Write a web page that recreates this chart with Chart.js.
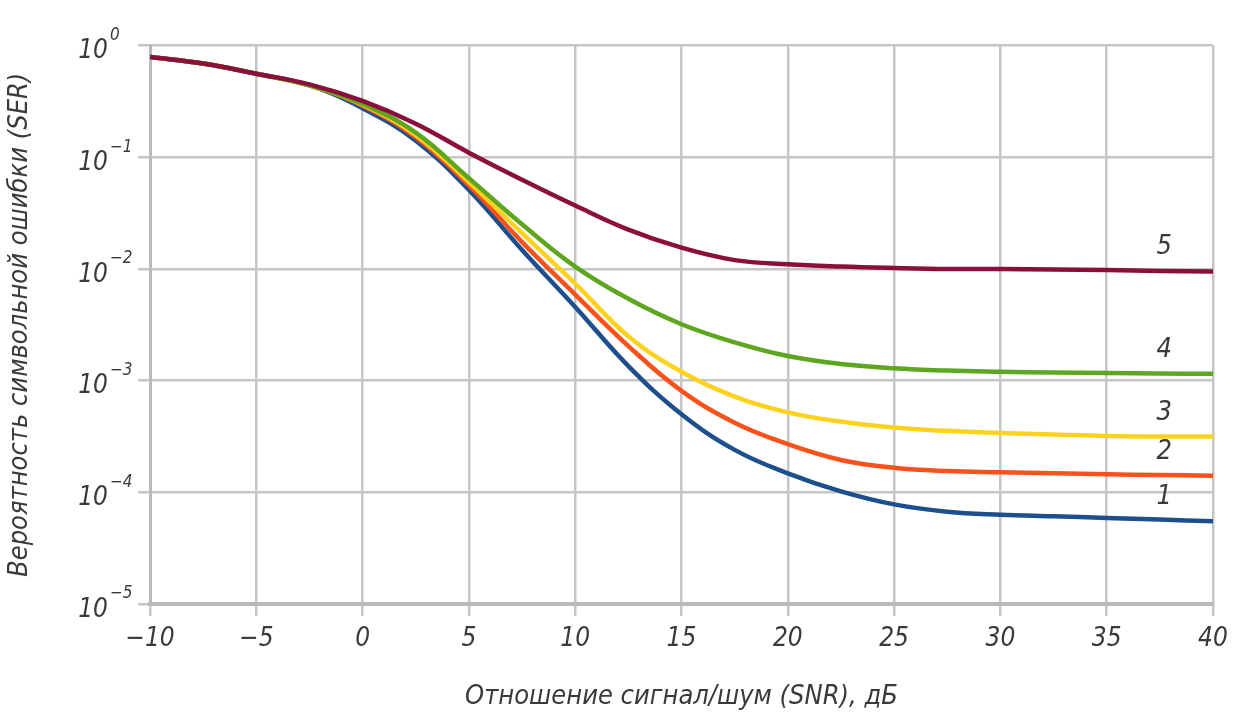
<!DOCTYPE html>
<html>
<head>
<meta charset="utf-8">
<script src="https://cdn.jsdelivr.net/npm/chart.js@4"></script>
<style>
  html, body { margin: 0; padding: 0; background: #fff; }
  #wrap { width: 1250px; height: 717px; }
</style>
</head>
<body>
<div id="wrap"><canvas id="myChart" width="1250" height="717"></canvas></div>
<script>
// SNR, dB
let snr = [-10, -7.5, -5, -2.5, 0, 2.5, 5, 7.5, 10, 12.5, 15, 17.5, 20, 22.5, 25, 27.5, 30, 32.5, 35, 37.5, 40];

// SER per curve
let ser1 = [0.79, 0.69, 0.56, 0.44, 0.275, 0.141, 0.051, 0.0148, 0.00457, 0.00135, 0.0005, 0.00024, 0.000148, 0.000102, 0.000078, 0.000067, 0.000063, 0.000061, 0.000059, 0.000057, 0.000055];
let ser2 = [0.79, 0.69, 0.56, 0.44, 0.29, 0.151, 0.056, 0.0174, 0.0059, 0.00204, 0.00081, 0.00042, 0.00027, 0.000195, 0.000166, 0.000155, 0.000151, 0.000148, 0.000145, 0.000143, 0.000141];
let ser3 = [0.79, 0.69, 0.56, 0.44, 0.295, 0.158, 0.06, 0.0209, 0.0074, 0.0025, 0.0012, 0.00072, 0.00052, 0.00043, 0.00038, 0.000355, 0.00034, 0.00033, 0.00032, 0.000316, 0.000316];
let ser4 = [0.79, 0.69, 0.56, 0.44, 0.30, 0.166, 0.065, 0.0251, 0.0105, 0.0054, 0.0032, 0.0022, 0.00166, 0.00141, 0.00129, 0.00123, 0.0012, 0.00118, 0.00117, 0.00116, 0.00115];
let ser5 = [0.79, 0.69, 0.56, 0.45, 0.32, 0.20, 0.11, 0.063, 0.037, 0.0225, 0.0155, 0.012, 0.011, 0.0105, 0.0102, 0.0100, 0.0100, 0.0099, 0.0098, 0.0096, 0.0095];

let curveNames = ['1', '2', '3', '4', '5'];
let curveColors = ['#1c4f8c', '#f7511c', '#fdd21e', '#5ea61f', '#8a0f3c'];
let xTicks = [-10, -5, 0, 5, 10, 15, 20, 25, 30, 35, 40];
let yDecades = [1e-5, 1e-4, 1e-3, 1e-2, 1e-1, 1];
let yExponents = ['\u22125', '\u22124', '\u22123', '\u22122', '\u22121', '0'];

const FONT = "'Liberation Sans Narrow', 'DejaVu Sans Condensed', sans-serif";
const TXT = '#3a3a3a';

let series = [ser1, ser2, ser3, ser4, ser5];
let datasets = [];
// draw maroon first so blue ends up on top, like the picture
for (let i = series.length - 1; i >= 0; i--) {
  let pts = [];
  for (let j = 0; j < snr.length; j++) {
    pts.push({ x: snr[j], y: series[i][j] });
  }
  datasets.push({
    label: curveNames[i],
    data: pts,
    borderColor: curveColors[i],
    backgroundColor: curveColors[i],
    borderWidth: 4.5,
    pointRadius: 0,
    tension: 0.4,
    fill: false
  });
}

// exponents on the "10" tick labels + curve numbers near the right end
const extras = {
  id: 'extras',
  afterDraw(chart) {
    const ctx = chart.ctx;
    const y = chart.scales.y;
    const x = chart.scales.x;
    ctx.save();
    ctx.fillStyle = TXT;
    ctx.font = "italic 17px " + FONT;
    ctx.textAlign = 'left';
    ctx.textBaseline = 'middle';
    for (let i = 0; i < yDecades.length; i++) {
      let py = y.getPixelForValue(yDecades[i]);
      ctx.fillText(yExponents[i], 110, py - 10);
    }
    ctx.font = "italic 27px " + FONT;
    ctx.textAlign = 'center';
    chart.data.datasets.forEach((ds) => {
      let last = ds.data[ds.data.length - 1];
      let px = x.getPixelForValue(37.7);
      let py = y.getPixelForValue(last.y) - 24;
      ctx.fillText(ds.label, px, py);
    });
    ctx.restore();
  }
};

const config = {
  type: 'line',
  data: { datasets: datasets },
  options: {
    responsive: false,
    animation: false,
    layout: { padding: { top: 43, right: 37, bottom: 0, left: 0 } },
    plugins: {
      legend: { display: false },
      tooltip: { enabled: false }
    },
    scales: {
      x: {
        type: 'linear',
        min: -10,
        max: 40,
        afterBuildTicks: (s) => { s.ticks = xTicks.map(v => ({ value: v })); },
        afterFit: (s) => { s.height = 113; },
        grid: { color: '#c6c6c6', lineWidth: 2.5, tickLength: 12, tickColor: '#c6c6c6' },
        border: { color: '#b9b9b9', width: 4 },
        ticks: {
          color: TXT,
          padding: 8,
          font: { family: FONT, size: 26, style: 'italic' },
          callback: (v) => v < 0 ? '\u2212' + Math.abs(v) : String(v)
        },
        title: {
          display: true,
          text: 'Отношение сигнал/шум (SNR), дБ',
          color: TXT,
          padding: { top: 8 },
          font: { family: FONT, size: 27, style: 'italic' }
        }
      },
      y: {
        type: 'logarithmic',
        min: 1e-5,
        max: 1,
        afterBuildTicks: (s) => { s.ticks = yDecades.map(v => ({ value: v })); },
        afterFit: (s) => { s.width = 150; },
        grid: { color: '#c6c6c6', lineWidth: 2.5, tickLength: 12, tickColor: '#c6c6c6' },
        border: { color: '#b9b9b9', width: 3 },
        ticks: {
          color: TXT,
          padding: 30,
          labelOffset: 6,
          font: { family: FONT, size: 26, style: 'italic' },
          callback: () => '10'
        },
        title: {
          display: true,
          text: 'Вероятность символьной ошибки (SER)',
          color: TXT,
          padding: { bottom: 0 },
          font: { family: FONT, size: 27, style: 'italic' }
        }
      }
    }
  },
  plugins: [extras]
};

const myChart = new Chart(document.getElementById('myChart'), config);
</script>
</body>
</html>
